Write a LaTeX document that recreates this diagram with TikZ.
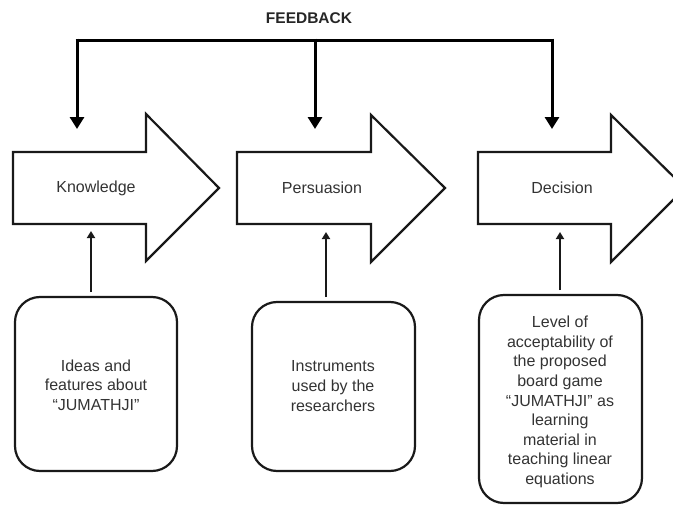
\documentclass[tikz,border=0pt]{standalone}
\usepackage{fontspec}
\setmainfont{Liberation Sans}
\usetikzlibrary{arrows.meta}
\begin{document}
\begin{tikzpicture}[x=1pt,y=-1pt,
  bigarrow/.style={draw=black!90,line width=2.2pt,fill=white,line join=miter},
  fbline/.style={draw=black,line width=3pt},
  fbarrow/.style={draw=black,line width=3pt,-{Triangle[width=14pt,length=12pt]}},
  uparrow/.style={draw=black!90,line width=2pt,-{Triangle[width=8pt,length=7pt]}},
  roundbox/.style={draw=black!90,line width=2.2pt,rounded corners=25pt},
  lbl/.style={font=\fontsize{16}{19.6}\selectfont,text=black!80,align=center,inner sep=0pt},
  fbtext/.style={font=\fontsize{15.5}{18}\selectfont\bfseries,text=black!85,inner sep=0pt}
]
\useasboundingbox (0,0) rectangle (673,506);
\clip (0,0) rectangle (673,506);
% big arrows
\draw[bigarrow] (13,152) -- (146,152) -- (146,114) -- (219,188) -- (146,261) -- (146,224) -- (13,224) -- cycle;
\draw[bigarrow] (237,152) -- (371,152) -- (371,115) -- (445,188) -- (371,262) -- (371,224) -- (237,224) -- cycle;
\draw[bigarrow] (478,152) -- (611,152) -- (611,115) -- (685,188) -- (611,262) -- (611,224) -- (478,224) -- cycle;
\node[lbl] (know) at (96,188) {Knowledge};
\node[lbl] (pers) at (322,188) {Persuasion};
\node[lbl] (deci) at (562,188) {Decision};
% feedback
\node[fbtext] (fb) at (309,18) {FEEDBACK};
\coordinate (fl) at (77,40);
\coordinate (fm) at (315,40);
\coordinate (fr) at (552,40);
\coordinate (tk) at (77,129);
\coordinate (tp) at (315,129);
\coordinate (td) at (552,129);
\draw[fbline] ([xshift=-1.5pt]fl) -- ([xshift=1.5pt]fr);
\draw[fbarrow] ([yshift=1.5pt]fl) -- (tk);
\draw[fbarrow] ([yshift=1.5pt]fm) -- (tp);
\draw[fbarrow] ([yshift=1.5pt]fr) -- (td);
% boxes
\draw[roundbox] (15,297) rectangle (177,471);
\draw[roundbox] (252,302) rectangle (415,471);
\draw[roundbox] (479,295) rectangle (642,503);
\node[lbl] (b1) at (96,385) {Ideas and\\features about\\``JUMATHJI''};
\node[lbl] (b2) at (333,386) {Instruments\\used by the\\researchers};
\node[lbl] (b3) at (560,402) {Level of\\acceptability of\\the proposed\\board game\\``JUMATHJI'' as\\learning\\material in\\teaching linear\\equations};
\coordinate (s1) at (91,292);
\coordinate (e1) at (91,231);
\coordinate (s2) at (326,297);
\coordinate (e2) at (326,232);
\coordinate (s3) at (560,290);
\coordinate (e3) at (560,232);
\draw[uparrow] (s1) -- (e1);
\draw[uparrow] (s2) -- (e2);
\draw[uparrow] (s3) -- (e3);
\end{tikzpicture}
\end{document}
